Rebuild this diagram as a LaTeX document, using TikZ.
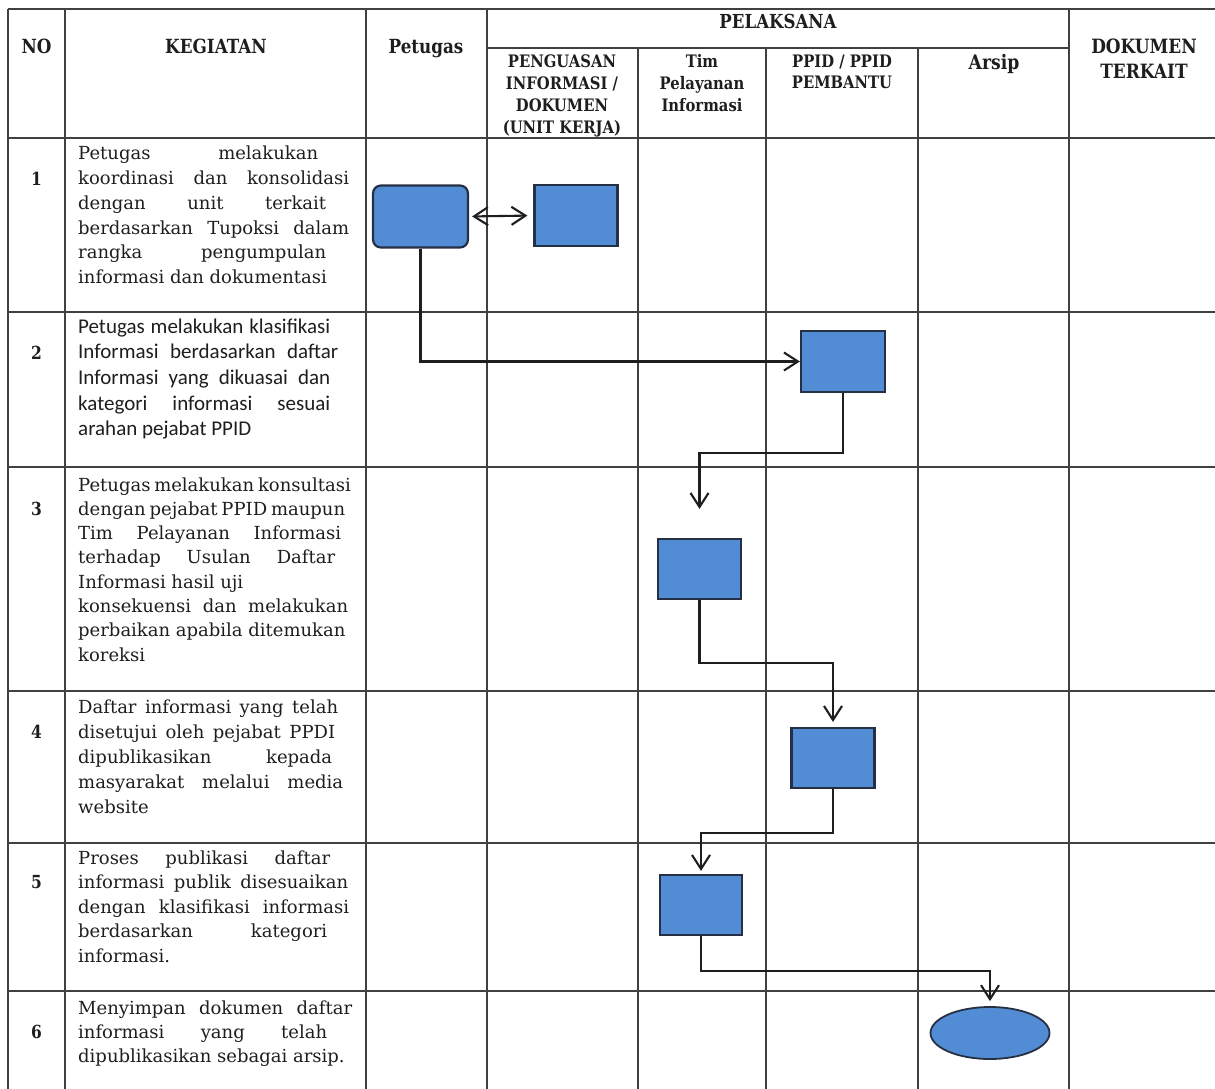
\documentclass[tikz,border=0pt]{standalone}
\usepackage{fontspec}
\setmainfont{DejaVu Serif}
\newfontfamily\hdrfont{DejaVu Serif}[FakeStretch=0.86]
\newfontfamily\carfont{Carlito}
\usetikzlibrary{arrows.meta,shapes.geometric}
\definecolor{boxblue}{RGB}{82,140,212}
\definecolor{boxline}{RGB}{38,48,68}
\definecolor{ink}{RGB}{30,30,30}
\newcommand{\jl}[2]{\makebox[#1pt][s]{#2}\\}
\tikzset{
  gridline/.style={line width=1.8pt, draw=ink!85},
  procbox/.style={draw=boxline, fill=boxblue, line width=2.2pt, inner sep=0pt, minimum width=83pt, minimum height=61pt},
  conn/.style={draw=ink, line width=2.1pt, -{Straight Barb[length=14pt,width=18pt]}},
  hdr/.style={inner sep=0pt, anchor=base, text=ink, font=\hdrfont\bfseries},
  body/.style={inner sep=0pt, anchor=base west, text=ink},
  num/.style={inner sep=0pt, anchor=base, text=ink, font=\hdrfont\bfseries\fontsize{18}{22}\selectfont},
}
\begin{document}
\begin{tikzpicture}[x=1pt,y=-1pt]
\useasboundingbox (0,0) rectangle (1215,1089);
% grid
\draw[gridline] (8,9) -- (1215,9);
\draw[gridline] (487,48) -- (1069,48);
\foreach \yy in {138,312,467,691,843,991} \draw[gridline] (8,\yy) -- (1215,\yy);
\foreach \xx in {8,65,366,487,1069} \draw[gridline] (\xx,9) -- (\xx,1089);
\foreach \xx in {638,766,918} \draw[gridline] (\xx,48) -- (\xx,1089);
% headers
\node[hdr, font=\hdrfont\bfseries\fontsize{19.5}{24}\selectfont] (hno) at (36.5,53.5) {NO};
\node[hdr, font=\hdrfont\bfseries\fontsize{19.5}{24}\selectfont] (hkeg) at (216,53.5) {KEGIATAN};
\node[hdr, font=\hdrfont\bfseries\fontsize{19.5}{24}\selectfont] (hpet) at (426,53.5) {Petugas};
\node[hdr, font=\hdrfont\bfseries\fontsize{19.3}{24}\selectfont] (hpel) at (778,28.5) {PELAKSANA};
\node[hdr, font=\hdrfont\bfseries\fontsize{17.2}{22}\selectfont] (hpen) at (562,68) {\begin{tabular}[t]{@{}c@{}}PENGUASAN\\INFORMASI /\\DOKUMEN\\(UNIT KERJA)\end{tabular}};
\node[hdr, font=\hdrfont\bfseries\fontsize{17.2}{22}\selectfont] (htim) at (702,68) {\begin{tabular}[t]{@{}c@{}}Tim\\Pelayanan\\Informasi\end{tabular}};
\node[hdr, font=\hdrfont\bfseries\fontsize{17.2}{21}\selectfont] (hppid) at (842,68) {\begin{tabular}[t]{@{}c@{}}PPID / PPID\\PEMBANTU\end{tabular}};
\node[hdr, font=\hdrfont\bfseries\fontsize{20}{24}\selectfont] (hars) at (994,70) {Arsip};
\node[hdr, font=\hdrfont\bfseries\fontsize{19.7}{25}\selectfont] (hdok) at (1144,54) {\begin{tabular}[t]{@{}c@{}}DOKUMEN\\TERKAIT\end{tabular}};
% numbers
\node[num] (n1) at (36.5,185) {1};
\node[num] (n2) at (36.5,359) {2};
\node[num] (n3) at (36.5,515.5) {3};
\node[num] (n4) at (36.5,738) {4};
\node[num] (n5) at (36.5,888.5) {5};
\node[num] (n6) at (36.5,1038) {6};
% activity texts
\node[body] (t1) at (78,160) {\parbox[t]{300pt}{\fontsize{18}{24.7}\selectfont
\jl{240}{Petugas melakukan}
\jl{271}{koordinasi dan konsolidasi}
\jl{248}{dengan unit terkait}
\jl{271}{berdasarkan Tupoksi dalam}
\jl{248}{rangka pengumpulan}
informasi dan dokumentasi}};
\node[body] (t2) at (78,333) {\parbox[t]{300pt}{\carfont\fontsize{21}{25.7}\selectfont
\jl{252}{Petugas melakukan klasifikasi}
\jl{260}{Informasi berdasarkan daftar}
\jl{252}{Informasi yang dikuasai dan}
\jl{252}{kategori informasi sesuai}
arahan pejabat PPID}};
\node[body] (t3) at (78,491) {\parbox[t]{300pt}{\fontsize{18}{24.3}\selectfont
\jl{272}{Petugas melakukan konsultasi}
\jl{267}{dengan pejabat PPID maupun}
\jl{263}{Tim Pelayanan Informasi}
\jl{257}{terhadap Usulan Daftar}
Informasi hasil uji\\
\jl{270}{konsekuensi dan melakukan}
perbaikan apabila ditemukan\\
koreksi}};
\node[body] (t4) at (78,713) {\parbox[t]{300pt}{\fontsize{18}{25}\selectfont
\jl{260}{Daftar informasi yang telah}
\jl{257}{disetujui oleh pejabat PPDI}
\jl{254}{dipublikasikan kepada}
\jl{265}{masyarakat melalui media}
website}};
\node[body] (t5) at (78,864) {\parbox[t]{300pt}{\fontsize{18}{24.6}\selectfont
\jl{252}{Proses publikasi daftar}
\jl{270}{informasi publik disesuaikan}
\jl{271}{dengan klasifikasi informasi}
\jl{249}{berdasarkan kategori}
informasi.}};
\node[body] (t6) at (78,1014) {\parbox[t]{300pt}{\fontsize{18}{24.2}\selectfont
\jl{274}{Menyimpan dokumen daftar}
\jl{249}{informasi yang telah}
dipublikasikan sebagai arsip.}};
% flow shapes
\node[procbox, rounded corners=8pt, minimum width=95pt, minimum height=62pt] (b1) at (420.5,216.5) {};
\node[procbox] (b2) at (576,215.5) {};
\node[procbox, minimum width=84pt] (b3) at (843,361.5) {};
\node[procbox, minimum height=60pt] (b4) at (699.5,569) {};
\node[procbox, minimum height=60pt] (b5) at (833,758) {};
\node[procbox, minimum width=82pt, minimum height=60pt] (b6) at (701,905) {};
\node[ellipse, draw=boxline, fill=boxblue, line width=1.8pt, inner sep=0pt, minimum width=119pt, minimum height=52pt] (e1) at (990,1033) {};
% connectors
\draw[conn, {Straight Barb[length=14pt,width=18pt]}-{Straight Barb[length=14pt,width=18pt]}, shorten <=3pt, shorten >=6pt] (b1.east) -- (b2.west);
\draw[conn] (b1.south) |- (b3.west);
\draw[conn, shorten >=29pt] (b3.south) -- ++(0,60) -| (b4.north);
\draw[conn, shorten >=5pt] (b4.south) -- ++(0,63) -| (b5.north);
\draw[conn, shorten >=3pt] (b5.south) -- ++(0,44) -| (b6.north);
\draw[conn, shorten >=5pt] (b6.south) -- ++(0,35) -| (e1.north);
\end{tikzpicture}
\end{document}
